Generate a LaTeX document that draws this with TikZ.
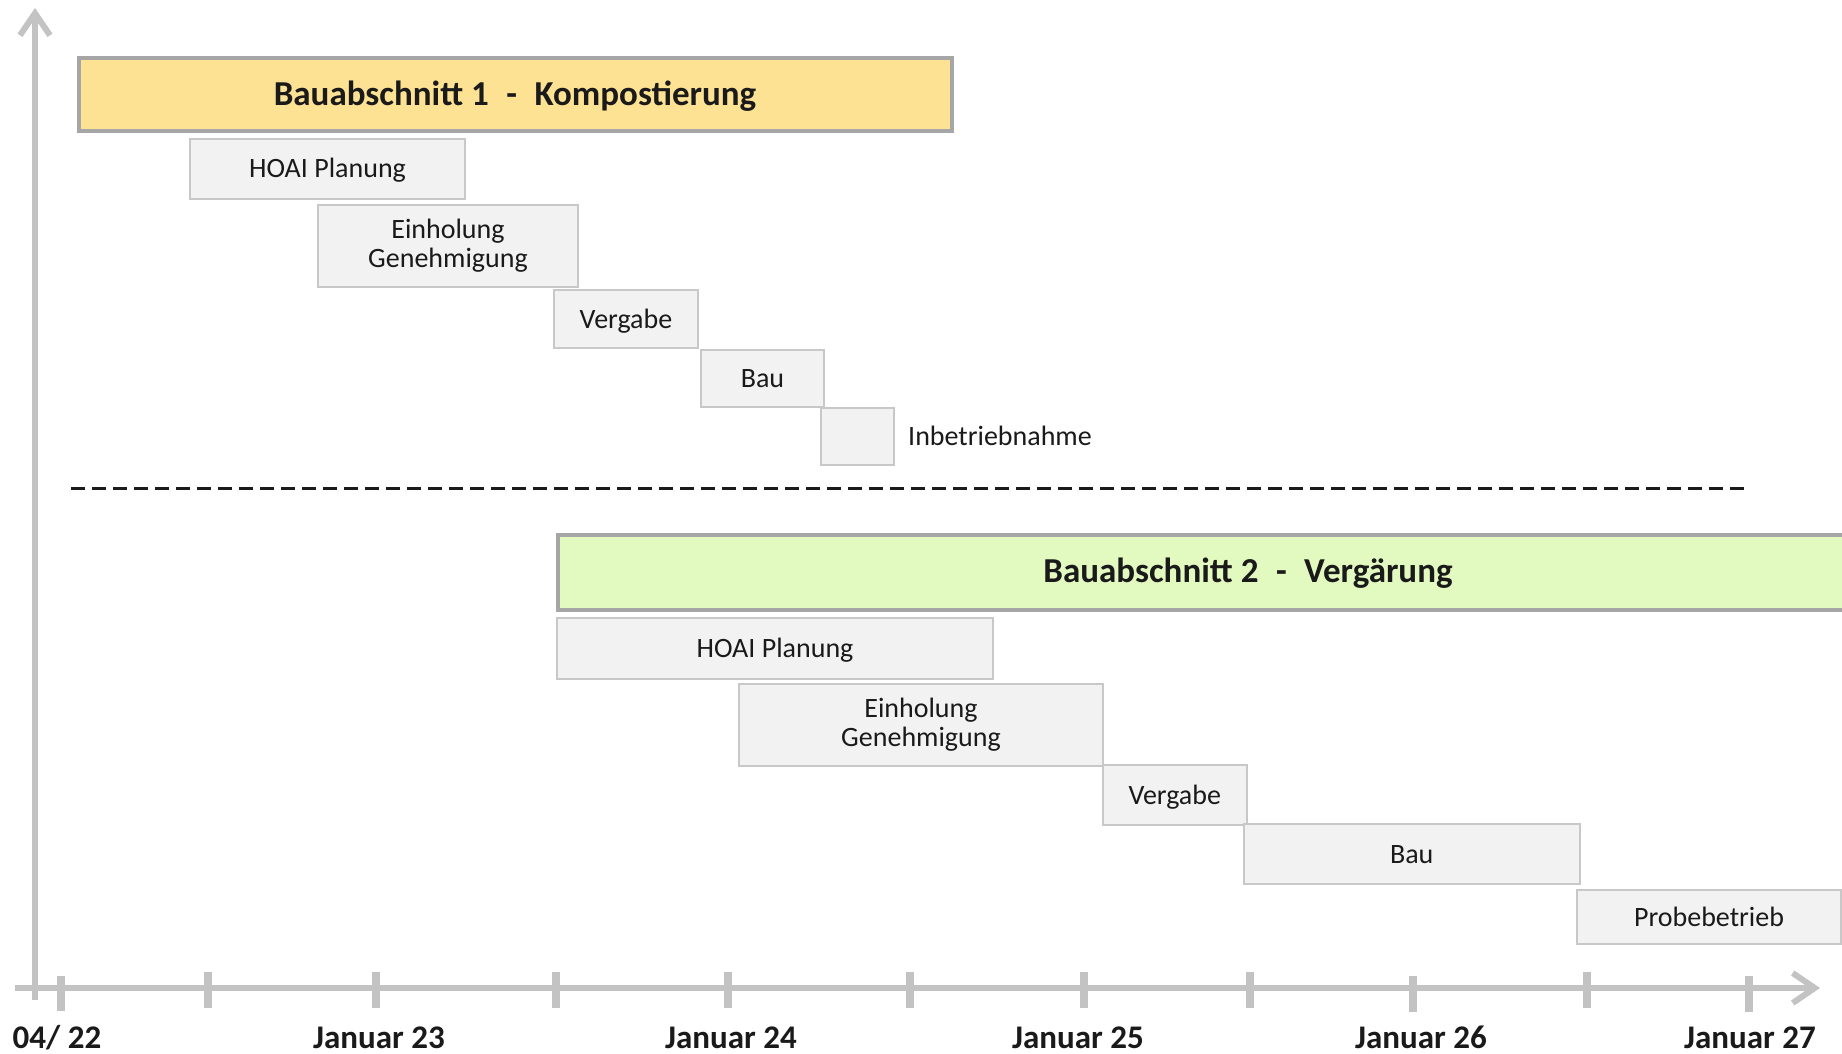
\documentclass[tikz,border=0pt]{standalone}
\usepackage{fontspec}
\setmainfont{Carlito}
\usetikzlibrary{arrows.meta}
\definecolor{axisgray}{HTML}{C3C3C3}
\definecolor{boxfill}{HTML}{F2F2F2}
\definecolor{boxline}{HTML}{C8C8C8}
\definecolor{phaseline}{HTML}{A6A6A6}
\definecolor{yellowfill}{HTML}{FEE293}
\definecolor{greenfill}{HTML}{E2FAC0}
\definecolor{txt}{HTML}{1A1A1A}
\tikzset{
  task/.style={draw=boxline, fill=boxfill, line width=2pt, anchor=north west,
    inner sep=0pt, align=center, text=txt, font=\fontsize{28}{29}\selectfont},
  oneline/.style={text height=18pt, text depth=0pt},
  phase/.style={draw=phaseline, line width=4pt, anchor=north west, inner sep=0pt,
    text=txt, font=\fontsize{35}{40}\selectfont\bfseries, text height=22.5pt, text depth=0pt},
  phasetext/.style={inner sep=0pt, text=txt, font=\fontsize{35}{40}\selectfont\bfseries,
    text height=22.5pt, text depth=0pt},
  plain/.style={inner sep=0pt, text=txt, font=\fontsize{28}{29}\selectfont, text height=18pt, text depth=0pt},
  axisline/.style={draw=axisgray, line width=6pt,
    -{Straight Barb[length=22pt,width=30pt,line width=6pt]}},
  tickmark/.style={draw=axisgray, line width=8pt},
  datelabel/.style={inner sep=0pt, anchor=base, text=txt, font=\fontsize{33}{36}\selectfont\bfseries},
  divider/.style={draw=txt, line width=3pt, dash pattern=on 14pt off 7pt},
}
\begin{document}
\begin{tikzpicture}[x=1pt,y=-1pt]
\clip (0,0) rectangle (1842,1054);
\fill[white] (0,0) rectangle (1842,1054);

% axes
\coordinate (ybot) at (35,1000);
\coordinate (ytop) at (35,8);
\coordinate (xleft) at (15,988);
\coordinate (xright) at (1820,988);
\draw[axisline] (ybot) -- (ytop);
\draw[axisline] (xleft) -- (xright);

% ticks
\foreach \x/\a/\b in {61/976/1011, 208/972/1008, 376/972/1008, 556/972/1008, 728/972/1008,
  910/972/1008, 1084/972/1008, 1250/972/1008, 1413/976/1012, 1587/972/1008, 1749/976/1012}
  \draw[tickmark] (\x,\a) -- (\x,\b);

% date labels
\node[datelabel] (d0) at (57,1048) {04/ 22};
\node[datelabel] (d23) at (379,1048) {Januar 23};
\node[datelabel] (d24) at (731,1048) {Januar 24};
\node[datelabel] (d25) at (1078,1048) {Januar 25};
\node[datelabel] (d26) at (1421,1048) {Januar 26};
\node[datelabel] (d27) at (1750,1048) {Januar 27};

% phase 1
\node[phase, fill=yellowfill, minimum width=873pt, minimum height=73pt] (phase1) at (76.5,56)
  {Bauabschnitt 1\hspace{0.5em}-\hspace{0.5em}Kompostierung};
\node[task, oneline, minimum width=275pt, minimum height=60pt] (p1hoai) at (189,138) {HOAI Planung};
\node[task, minimum width=260pt, minimum height=82pt] (p1gen) at (317,204) {Einholung\\Genehmigung};
\node[task, oneline, minimum width=144pt, minimum height=58pt] (p1verg) at (553,289) {Vergabe};
\node[task, oneline, minimum width=123pt, minimum height=57pt] (p1bau) at (700,349) {Bau};
\node[task, oneline, minimum width=73.5pt, minimum height=57pt] (p1inb) at (819.5,407) {};
\node[plain, anchor=west] (p1inbtext) at ([xshift=13pt]p1inb.east) {Inbetriebnahme};

% divider
\coordinate (divl) at (71,488);
\coordinate (divr) at (1747,488);
\draw[divider] (divl) -- (divr);

% phase 2
\node[phase, fill=greenfill, minimum width=1300pt, minimum height=75pt] (phase2) at (556,533) {};
\node[phasetext] (phase2title) at (1248,571) {Bauabschnitt 2\hspace{0.5em}-\hspace{0.5em}Vergärung};
\node[task, oneline, minimum width=436pt, minimum height=61pt] (p2hoai) at (556,617) {HOAI Planung};
\node[task, minimum width=364pt, minimum height=82pt] (p2gen) at (738,683) {Einholung\\Genehmigung};
\node[task, oneline, minimum width=143.5pt, minimum height=60pt] (p2verg) at (1102,764) {Vergabe};
\node[task, oneline, minimum width=335.5pt, minimum height=60pt] (p2bau) at (1243,823) {Bau};
\node[task, oneline, minimum width=264pt, minimum height=54pt] (p2probe) at (1576,889) {Probebetrieb};
\end{tikzpicture}
\end{document}
